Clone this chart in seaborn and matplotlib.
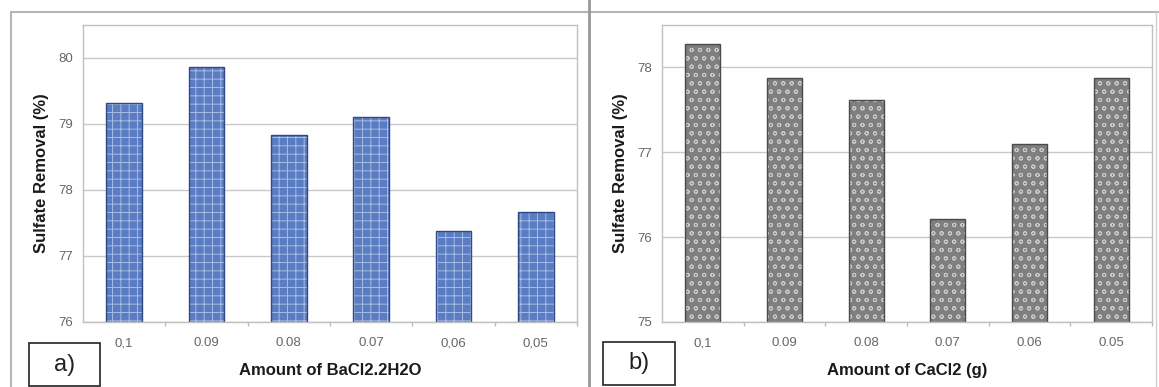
import numpy as np
import pandas as pd
import seaborn as sns
import matplotlib
matplotlib.use("Agg")
import matplotlib.pyplot as plt
from matplotlib.patches import Rectangle
from matplotlib.lines import Line2D

# data
cats_a = ["0,1", "0.09", "0.08", "0.07", "0,06", "0,05"]
vals_a = [79.32, 79.87, 78.83, 79.11, 77.38, 77.66]
cats_b = ["0,1", "0.09", "0.08", "0.07", "0.06", "0.05"]
vals_b = [78.28, 77.88, 77.62, 76.21, 77.10, 77.88]

ylim_a = (76, 80.5)
ylim_b = (75, 78.5)
yticks_a = [76, 77, 78, 79, 80]
yticks_b = [75, 76, 77, 78]

sns.set_theme(style="white")
plt.rcParams['font.family'] = ['Liberation Sans', 'DejaVu Sans']
plt.rcParams['hatch.linewidth'] = 0.7

fig = plt.figure(figsize=(11.59, 3.87), dpi=100)
W, H = 1159, 387


def panel(rect, cats, vals, ylim, yticks, fill, hatch_col, hatch, edge, xlabel, tag, tagbox):
    ax = fig.add_axes(rect)
    df = pd.DataFrame({"cat": cats, "val": vals})
    # filled bars with texture
    sns.barplot(data=df, x="cat", y="val", ax=ax, color=fill, width=0.43,
                saturation=1, linewidth=0, edgecolor=hatch_col)
    for p in ax.patches:
        p.set_hatch(hatch)
        p.set_edgecolor(hatch_col)
        p.set_linewidth(0)
    # outline on top
    sns.barplot(data=df, x="cat", y="val", ax=ax, fill=False, width=0.43,
                linewidth=1.0, edgecolor=edge)
    ax.set_ylim(*ylim)
    ax.set_xlim(-0.5, len(cats) - 0.5)
    ax.set_yticks(yticks)
    ax.set_yticklabels([str(t) for t in yticks], fontsize=9.5, color="#666666")
    ax.tick_params(axis="x", labelsize=9.5, labelcolor="#666666", pad=11, length=0)
    ax.tick_params(axis="y", pad=7, length=0)
    ax.set_xticks(np.arange(len(cats)) + 0.5, minor=True)
    ax.tick_params(axis="x", which="minor", length=3, color="#bbbbbb", bottom=True)
    ax.yaxis.grid(True, color="#c8c8c8", linewidth=1.0)
    ax.set_axisbelow(True)
    for s in ax.spines.values():
        s.set_color("#c0c0c0")
        s.set_linewidth(1.0)
    ax.set_xlabel(xlabel, fontsize=12, fontweight="bold", labelpad=10, color="#1a1a1a")
    ax.set_ylabel("Sulfate Removal (%)", fontsize=12, fontweight="bold", labelpad=7,
                  color="#1a1a1a")
    x0, y0, x1, y1 = tagbox
    fig.patches.append(Rectangle((x0 / W, 1 - y1 / H), (x1 - x0) / W, (y1 - y0) / H,
                                 transform=fig.transFigure, fill=False,
                                 edgecolor="#222222", linewidth=1.2))
    fig.text((x0 + x1) / 2 / W, 1 - (y0 + y1) / 2 / H, tag, fontsize=17,
             ha="center", va="center", color="#222222")
    return ax


panel([83 / W, 1 - 322 / H, 494 / W, 297 / H], cats_a, vals_a, ylim_a, yticks_a,
      "#5a7cc2", "#a9bde3", "++", "#2e4a86", "Amount of BaCl2.2H2O", "a)",
      (29, 343, 100, 386))
panel([662 / W, 1 - 322 / H, 490 / W, 297 / H], cats_b, vals_b, ylim_b, yticks_b,
      "#7f7f7f", "#c9c9c9", "oo", "#4a4a4a", "Amount of CaCl2 (g)", "b)",
      (603, 342, 675, 385))

# outer frame lines
frame = "#b5b5b5"
fig.lines.append(Line2D([11 / W, 1], [1 - 12 / H] * 2, transform=fig.transFigure,
                        color=frame, linewidth=1.5))
fig.lines.append(Line2D([11 / W] * 2, [0, 1 - 12 / H], transform=fig.transFigure,
                        color=frame, linewidth=1.5))
fig.lines.append(Line2D([589 / W] * 2, [0, 1], transform=fig.transFigure,
                        color="#999999", linewidth=2.0))
fig.lines.append(Line2D([1156 / W] * 2, [0, 1 - 12 / H], transform=fig.transFigure,
                        color="#d0d0d0", linewidth=1.0))

fig.savefig("out.png", dpi=100)
